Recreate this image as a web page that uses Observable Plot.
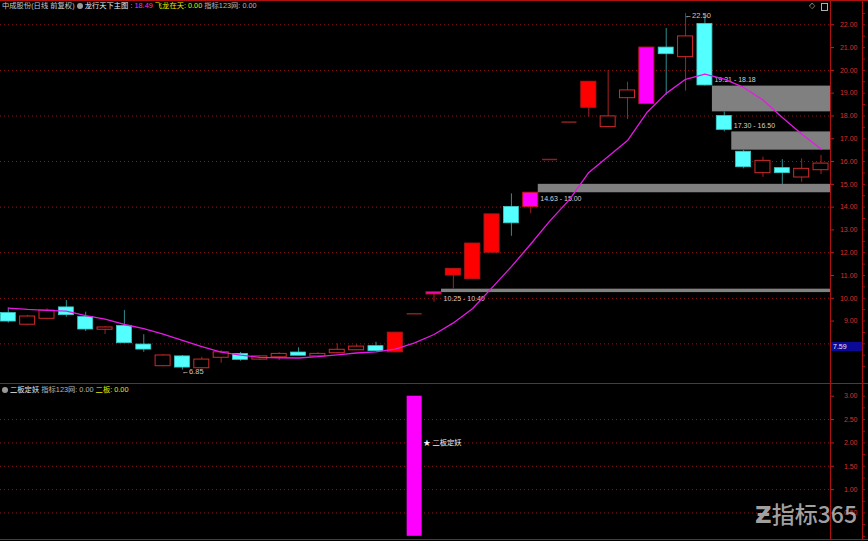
<!DOCTYPE html>
<html><head><meta charset="utf-8">
<script src="https://cdn.jsdelivr.net/npm/d3@7"></script>
<script src="https://cdn.jsdelivr.net/npm/@observablehq/plot@0.6"></script>
<style>
html,body{margin:0;padding:0;background:#000;}
#wrap{position:relative;width:868px;height:541px;background:#000;overflow:hidden;font-family:"Liberation Sans","Noto Sans CJK SC",sans-serif;}
#wrap svg{position:absolute;left:0;display:block;}
.hdr{position:absolute;left:2px;font-size:7.3px;line-height:10px;white-space:nowrap;color:#c8c8c8;}
.dot{display:inline-block;width:6px;height:6px;border-radius:50%;background:#9a9a9a;vertical-align:-1px;}
.hl{position:absolute;background:#b01010;height:1px;left:0;width:868px;}
.vl{position:absolute;background:#b01010;width:1px;}
</style></head><body>
<div id="wrap"></div>
<script>
// ---- data ----
const opens  = [9.35,8.84,9.10,9.60,9.18,8.62,8.79,7.97,7.02,7.45,6.93,7.39,7.56,7.31,7.41,7.62,7.45,7.59,7.72,7.90,7.63,9.32,10.17,11.00,10.84,12.00,14.01,14.00,16.09,17.73,18.36,17.51,18.78,18.52,21.00,20.58,22.04,18.00,16.43,15.49,15.71,15.30,15.62];
const closes = [8.98,9.20,9.46,9.26,8.63,8.72,8.03,7.75,7.49,6.96,7.31,7.63,7.30,7.45,7.56,7.48,7.56,7.74,7.88,7.68,8.49,9.32,10.26,11.29,12.40,13.68,13.29,14.63,16.09,17.73,19.50,17.98,19.12,21.00,20.71,21.49,19.34,17.39,15.75,16.03,15.49,15.68,15.91];
const highs  = [9.57,9.25,9.54,9.90,9.39,8.76,9.46,8.40,7.53,7.49,7.41,7.71,7.62,7.47,7.61,7.83,7.61,8.00,7.96,8.07,8.49,9.32,10.27,11.29,12.40,13.68,14.58,14.63,16.09,17.73,19.50,19.99,19.48,21.00,21.84,22.50,22.40,18.18,16.50,16.19,16.08,16.12,16.27];
const lows   = [8.91,8.80,9.08,9.17,8.54,8.41,8.03,7.63,6.99,6.85,6.90,7.15,7.24,7.27,7.27,7.48,7.40,7.59,7.71,7.68,7.63,9.32,9.83,10.40,10.84,12.00,12.72,13.71,16.09,17.73,17.95,17.51,17.84,18.52,18.90,19.09,19.31,17.30,15.68,15.31,14.99,15.09,15.43];
const maLine = [9.57,9.51,9.47,9.44,9.24,9.09,8.85,8.67,8.43,8.15,7.88,7.64,7.51,7.41,7.39,7.38,7.44,7.52,7.60,7.65,7.77,8.04,8.41,8.92,9.55,10.47,11.39,12.38,13.41,14.33,15.52,16.22,16.92,18.15,18.99,19.61,19.84,19.62,19.25,18.70,17.93,17.21,16.55];
const limitUpDays = [20,23,24,25,30];
const signalDays  = [22,27,33];
const zoneLo    = [10.25,14.63,18.18,16.50];
const zoneHi    = [10.40,15.00,19.31,17.30];
const zoneStart = [22,27,36,37];
const zoneText  = ["10.25 - 10.40","14.63 - 15.00","19.31 - 18.18","17.30 - 16.50"];
const extremeDays   = [35,9];
const extremeValues = [22.50,6.85];
const mainTicks = [9,10,11,12,13,14,15,16,17,18,19,20,21,22];
const mainGrid  = [8,10,12,14,16,18,20,22];
const cursorLabel = "7.59", cursorValue = 7.86;
const subDays   = [21];
const subValues = [3];
const subLabel  = "★ 二板定妖";
const subTicks  = [0.5,1,1.5,2,2.5,3];
const subGrid   = [0.5,1,1.5,2,2.5];
const headMain = {name:"中成股份(日线 前复权)", ind:"龙行天下主图", v1:"18.49", l2:"飞龙在天", v2:"0.00", l3:"指标123网", v3:"0.00"};
const headSub  = {ind:"二板定妖", l1:"指标123网", v1:"0.00", l2:"二板", v2:"0.00"};

// ---- build ----
const candles = opens.map((o,i)=>({i, open:o, close:closes[i], high:highs[i], low:lows[i], ma:maLine[i]}));
const isDoji = d => d.open===d.close && d.high===d.low && d.open===d.high;
const kind = d => isDoji(d) ? "doji" : signalDays.includes(d.i) ? "sig" : limitUpDays.includes(d.i) ? "lim" : d.close < d.open ? "down" : "up";
const zones = zoneLo.map((lo,k)=>({lo, hi:zoneHi[k], start:zoneStart[k], text:zoneText[k]}));
const lastClose = closes[closes.length-1];
const extremes = extremeDays.map((d,k)=>({i:d, v:extremeValues[k]}));
const hw = 0.3875;
const xDomain = [-0.403, 42.49];
const RED="#d22a2a", CYAN="#54ffff", MAG="#ff00ff";
const font = "Liberation Sans, Arial, sans-serif";

const main = Plot.plot({
  width:868, height:383, marginLeft:0, marginRight:38, marginTop:0, marginBottom:0,
  style:{background:"transparent", fontFamily:font, overflow:"visible"},
  x:{domain:xDomain, axis:null},
  y:{domain:[6.261, 23.066], axis:null},
  marks:[
    Plot.ruleY(mainGrid, {stroke:"#9a1414", strokeDasharray:"1,3"}),
    Plot.rect(zones, {x1:d=>d.start+hw, x2:xDomain[1], y1:"lo", y2:"hi", fill:"#808080"}),
    Plot.text(zones.filter(z=>z.hi>lastClose), {x:d=>d.start+hw, y:"hi", text:"text", dx:2, dy:-6, textAnchor:"start", fill:"#d0d0d0", fontSize:7}),
    Plot.text(zones.filter(z=>z.hi<=lastClose), {x:d=>d.start+hw, y:"lo", text:"text", dx:2, dy:6, textAnchor:"start", fill:"#d0d0d0", fontSize:7}),
    // wicks
    Plot.ruleX(candles.filter(d=>kind(d)==="down"), {x:"i", y1:"low", y2:"high", stroke:"#2e8e8e"}),
    Plot.ruleX(candles.filter(d=>kind(d)!=="down" && kind(d)!=="doji"), {x:"i", y1:"low", y2:"high", stroke:"#a82020"}),
    // bodies
    Plot.rect(candles.filter(d=>kind(d)==="down"), {x1:d=>d.i-hw, x2:d=>d.i+hw, y1:"open", y2:"close", fill:CYAN, stroke:"#3cc8c8", strokeWidth:0.8}),
    Plot.rect(candles.filter(d=>kind(d)==="up"), {x1:d=>d.i-hw, x2:d=>d.i+hw, y1:"open", y2:"close", fill:"#000", stroke:RED, strokeWidth:1}),
    Plot.rect(candles.filter(d=>kind(d)==="lim"), {x1:d=>d.i-hw, x2:d=>d.i+hw, y1:"open", y2:"close", fill:"#ff0000", stroke:"#b01818", strokeWidth:1}),
    Plot.rect(candles.filter(d=>kind(d)==="sig"), {x1:d=>d.i-hw, x2:d=>d.i+hw, y1:"open", y2:"close", fill:MAG, stroke:"#c81818", strokeWidth:1}),
    Plot.ruleY(candles.filter(d=>kind(d)==="doji"), {y:"close", x1:d=>d.i-hw, x2:d=>d.i+hw, stroke:"#8c2020", strokeWidth:1.5}),
    // MA
    Plot.line(candles, {x:"i", y:"ma", stroke:"#e619e6", strokeWidth:1.3}),
    // extremes
    Plot.text(extremes, {x:"i", y:"v", text:d=>"←"+d.v.toFixed(2), textAnchor:"start", dx:-1, dy:2, fill:"#c8c8c8", fontSize:7.5}),
    // axis
    Plot.axisY(mainTicks, {anchor:"right", tickSize:3, stroke:"#c02020", fill:null}),
    Plot.text(mainTicks, {y:d=>d, text:d=>d.toFixed(2), frameAnchor:"right", dx:27, textAnchor:"end", fill:"#d83030", fontSize:7}),
    Plot.axisY(d3.range(7,23,0.5), {anchor:"right", tickSize:2, stroke:"#a01818", fill:null, dx:32})
  ]
});

const sub = Plot.plot({
  width:868, height:158, marginLeft:0, marginRight:38, marginTop:0, marginBottom:2,
  style:{background:"transparent", fontFamily:font, overflow:"visible"},
  x:{domain:xDomain, axis:null},
  y:{domain:[-0.068, 3.272], axis:null},
  marks:[
    Plot.ruleY(subGrid, {stroke:"#9a1414", strokeDasharray:"1,3"}),
    Plot.rect(subDays.map((d,k)=>({i:d, v:subValues[k]})), {x1:d=>d.i-hw, x2:d=>d.i+hw, y1:0, y2:"v", fill:MAG}),
    Plot.text(subDays.map((d,k)=>({i:d, v:subValues[k]})), {x:d=>d.i+hw, y:2, text:()=>subLabel, textAnchor:"start", dx:1, fill:"#f0f0f0", fontSize:7.3, fontFamily:"Liberation Sans, Noto Sans CJK SC, sans-serif"}),
    Plot.axisY(subTicks, {anchor:"right", tickSize:3, stroke:"#c02020", fill:null}),
    Plot.text(subTicks, {y:d=>d, text:d=>d.toFixed(2), frameAnchor:"right", dx:27, textAnchor:"end", fill:"#d83030", fontSize:7}),
    Plot.axisY(d3.range(0,3.01,0.25), {anchor:"right", tickSize:2, stroke:"#a01818", fill:null, dx:32})
  ]
});

const wrap = document.getElementById("wrap");
main.style.top = "0px";
sub.style.top = "383px";
wrap.appendChild(main);
wrap.appendChild(sub);

function add(html){ const t=document.createElement("div"); t.innerHTML=html; const e=t.firstElementChild; wrap.appendChild(e); return e; }
// frame lines
add('<div class="hl" style="top:0px"></div>');
add('<div class="hl" style="top:383px"></div>');
add('<div class="hl" style="top:539px"></div>');
add('<div class="vl" style="left:830px;top:0;height:540px"></div>');
add('<div class="vl" style="left:862px;top:0;height:540px"></div>');
// headers
add(`<div class="hdr" style="top:1px">${headMain.name} <span class="dot"></span> <span style="color:#eaeaea">${headMain.ind}</span> : <span style="color:#ff30ff">${headMain.v1}</span> <span style="color:#e8e800">${headMain.l2}: ${headMain.v2}</span> <span style="color:#b8b8b8">${headMain.l3}: ${headMain.v3}</span></div>`);
add(`<div class="hdr" style="top:385px"><span class="dot"></span> <span style="color:#eaeaea">${headSub.ind}</span> <span style="color:#b8b8b8">${headSub.l1}: ${headSub.v1}</span> <span style="color:#e8e800">${headSub.l2}: ${headSub.v2}</span></div>`);
// top-right icons
add('<div style="position:absolute;left:809px;top:1px;font-size:8px;color:#b0b0b0;font-family:DejaVu Sans">◇</div>');
add('<div style="position:absolute;left:821px;top:3px;width:5px;height:6px;border:1px solid #b0b0b0;"></div>');
// cursor price box on axis
const cy = main.scale("y").apply(cursorValue);
add(`<div style="position:absolute;left:831px;top:${cy-4.5}px;width:31px;height:9px;background:#0a0a96;color:#e0e0ff;font-size:7px;line-height:9px;padding-left:2px;box-sizing:border-box;font-family:${font}">${cursorLabel}</div>`);
// watermark
add('<div style="position:absolute;left:755px;top:498px;font-size:23px;line-height:30px;color:rgba(190,190,190,0.85);font-family:\'Noto Sans CJK SC\',sans-serif;font-weight:500;white-space:nowrap"><span style="font-family:\'DejaVu Sans\';font-weight:bold">Ƶ</span>指标365</div>');
</script>
</body></html>
